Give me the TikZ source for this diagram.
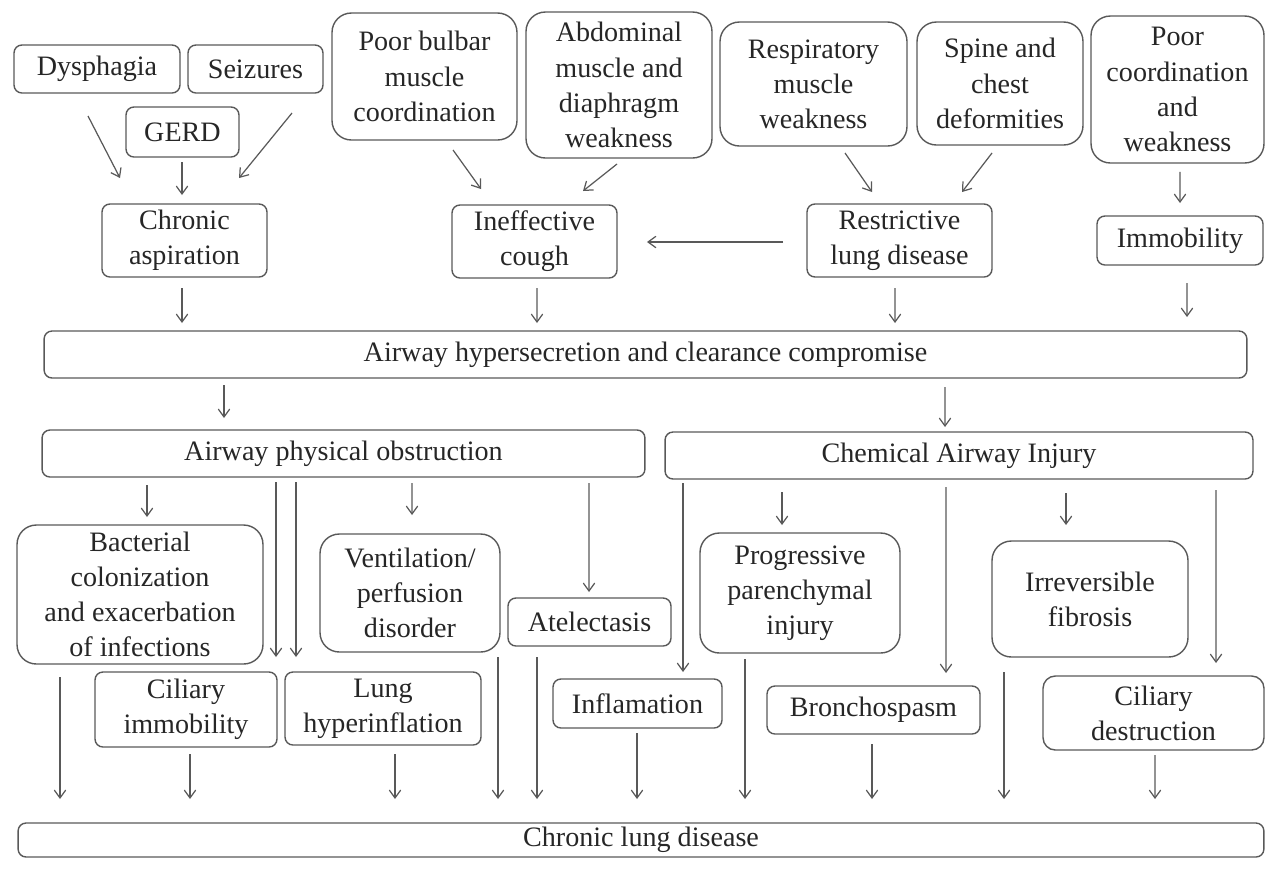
\documentclass[tikz,border=0pt]{standalone}
\usepackage{fontspec}
\setmainfont{Liberation Serif}
\usepackage{tikz}
\usetikzlibrary{arrows.meta,calc}

\begin{document}
\begin{tikzpicture}[x=0.02cm, y=-0.02cm, inner sep=1pt, outer sep=0pt,
    every node/.style={font=\fontsize{16pt}{20pt}\selectfont, text=black!85}]
    \tikzstyle{box}=[rectangle, rounded corners=4.5pt, draw=black!65, line width=0.8pt, align=center]
    \tikzstyle{bigbox}=[box, rounded corners=11pt]
    \tikzstyle{arr}=[-{Straight Barb[length=4.5pt,width=6.5pt]}, draw=black!65, line width=0.7pt]

    \useasboundingbox (0,0) rectangle (1266,877);

    % causes
    \node[box, minimum width=3.32cm, minimum height=0.96cm] (dysph) at (97,69) {Dysphagia};
    \node[box, minimum width=2.7cm, minimum height=0.96cm] (seiz) at (255.5,69) {Seizures};
    \node[box, minimum width=2.26cm, minimum height=1.0cm] (gerd) at (182.5,132) {GERD};
    \node[bigbox, minimum width=3.7cm, minimum height=2.54cm] (bulbar) at (424.5,76.5) {Poor bulbar\\muscle\\coordination};
    \node[bigbox, minimum width=3.72cm, minimum height=2.92cm] (abdom) at (619,85) {Abdominal\\muscle and\\diaphragm\\weakness};
    \node[bigbox, minimum width=3.74cm, minimum height=2.48cm] (respmus) at (813.5,84) {Respiratory\\muscle\\weakness};
    \node[bigbox, minimum width=3.32cm, minimum height=2.46cm] (spine) at (1000,83.5) {Spine and\\chest\\deformities};
    \node[bigbox, minimum width=3.46cm, minimum height=2.94cm] (poorcoord) at (1177.5,89.5) {Poor\\coordination\\and\\weakness};

    \node[box, minimum width=3.3cm, minimum height=1.46cm] (chrasp) at (184.5,240.5) {Chronic\\aspiration};
    \node[box, minimum width=3.3cm, minimum height=1.46cm] (ineff) at (534.5,241.5) {Ineffective\\cough};
    \node[box, minimum width=3.7cm, minimum height=1.46cm] (restr) at (899.5,240.5) {Restrictive\\lung disease};
    \node[box, minimum width=3.32cm, minimum height=0.98cm] (immob) at (1180,240.5) {Immobility};

    \node[box, minimum width=24.06cm, minimum height=0.94cm] (hyper) at (645.5,354.5) {Airway hypersecretion and clearance compromise};
    \node[box, minimum width=12.06cm, minimum height=0.94cm] (obstr) at (343.5,453.5) {Airway physical obstruction};
    \node[box, minimum width=11.76cm, minimum height=0.94cm] (chem) at (959,455.5) {Chemical Airway Injury};

    % consequences
    \node[bigbox, minimum width=4.92cm, minimum height=2.78cm] (bact) at (140,594.5) {Bacterial\\colonization\\and exacerbation\\of infections};
    \node[bigbox, minimum width=3.6cm, minimum height=2.36cm] (ventil) at (410,593) {Ventilation/\\perfusion\\disorder};
    \node[box, minimum width=3.26cm, minimum height=0.96cm] (atel) at (589.5,622) {Atelectasis};
    \node[bigbox, minimum width=4.0cm, minimum height=2.4cm] (progr) at (800,593) {Progressive\\parenchymal\\injury};
    \node[bigbox, minimum width=3.92cm, minimum height=2.32cm] (fibro) at (1090,599) {Irreversible\\fibrosis};
    \node[box, minimum width=3.64cm, minimum height=1.5cm] (cilimm) at (186,709.5) {Ciliary\\immobility};
    \node[box, minimum width=3.92cm, minimum height=1.46cm] (hyperinfl) at (383,708.5) {Lung\\hyperinflation};
    \node[box, minimum width=3.38cm, minimum height=0.98cm] (inflam) at (637.5,703.5) {Inflamation};
    \node[box, minimum width=4.26cm, minimum height=0.96cm] (broncho) at (873.5,710) {Bronchospasm};
    \node[box, minimum width=4.42cm, minimum height=1.48cm, rounded corners=7pt] (cildes) at (1153.5,713) {Ciliary\\destruction};

    \node[box, minimum width=24.92cm, minimum height=0.68cm] (cld) at (641,840) {Chronic lung disease};

    % top row
    \draw[arr] ($(dysph.south)+(-9,23)$) -- ($(chrasp.north)+(-64.5,-26)$);
    \draw[arr] ($(seiz.south)+(36.5,20)$) -- ($(chrasp.north)+(54.5,-26)$);
    \draw[arr] ($(gerd.south)+(-0.5,5)$) -- ($(chrasp.north)+(-2.5,-9)$);
    \draw[arr] ($(bulbar.south)+(28.5,10)$) -- ($(ineff.north)+(-53.5,-16)$);
    \draw[arr] ($(abdom.south)+(-2,6)$) -- ($(ineff.north)+(48.5,-14)$);
    \draw[arr] ($(respmus.south)+(31.5,7)$) -- ($(restr.north)+(-27.5,-12)$);
    \draw[arr] ($(spine.south)+(-8,8)$) -- ($(restr.north)+(62.5,-12)$);
    \draw[arr] ($(poorcoord.south)+(2.5,9)$) -- ($(immob.north)+(0,-13)$);
    \draw[arr] ($(restr.west)+(-24,1.5)$) -- ($(ineff.east)+(30,0.5)$);

    % into hypersecretion
    \draw[arr] ($(chrasp.south)+(-2.5,11)$) -- ($(hyper.north)+(-463.5,-8)$);
    \draw[arr] ($(ineff.south)+(2.5,10)$) -- ($(hyper.north)+(-108.5,-8)$);
    \draw[arr] ($(restr.south)+(-4.5,11)$) -- ($(hyper.north)+(249.5,-8)$);
    \draw[arr] ($(immob.south)+(7,18)$) -- ($(hyper.north)+(541.5,-14)$);
    \draw[arr] ($(hyper.south)+(-421.5,7)$) -- ($(obstr.north)+(-119.5,-12)$);
    \draw[arr] ($(hyper.south)+(299.5,9)$) -- ($(chem.north)+(-14,-5)$);

    % obstruction
    \draw[arr] ($(obstr.south)+(-196.5,8)$) -- ($(bact.north)+(7,-8)$);
    \draw[arr] ($(obstr.south)+(-67.5,5)$) -- ($(cilimm.north)+(90,-15)$);
    \draw[arr] ($(obstr.south)+(-47.5,5)$) -- ($(hyperinfl.north)+(-87,-15)$);
    \draw[arr] ($(obstr.south)+(68.5,6)$) -- ($(ventil.north)+(2,-19)$);
    \draw[arr] ($(obstr.south)+(245.5,6)$) -- ($(atel.north)+(-0.5,-6)$);

    % chemical injury
    \draw[arr] ($(chem.south)+(-276,4)$) -- ($(inflam.north)+(45.5,-7)$);
    \draw[arr] ($(chem.south)+(-177,13)$) -- ($(progr.north)+(-18,-8)$);
    \draw[arr] ($(chem.south)+(-13,8)$) -- ($(broncho.north)+(72.5,-13)$);
    \draw[arr] ($(chem.south)+(107,14)$) -- ($(fibro.north)+(-24,-16)$);
    \draw[arr] ($(chem.south)+(257,11)$) -- ($(cildes.north)+(62.5,-13)$);

    % into chronic lung disease
    \draw[arr] ($(bact.south)+(-80,13)$) -- ($(cld.north)+(-581,-24)$);
    \draw[arr] ($(cilimm.south)+(4,7)$) -- ($(cld.north)+(-451,-24)$);
    \draw[arr] ($(hyperinfl.south)+(12,9)$) -- ($(cld.north)+(-246,-24)$);
    \draw[arr] ($(ventil.south)+(88,5)$) -- ($(cld.north)+(-143,-24)$);
    \draw[arr] ($(atel.south)+(-52.5,11)$) -- ($(cld.north)+(-104,-24)$);
    \draw[arr] ($(inflam.south)+(-0.5,5)$) -- ($(cld.north)+(-4,-24)$);
    \draw[arr] ($(progr.south)+(-55,6)$) -- ($(cld.north)+(104,-24)$);
    \draw[arr] ($(broncho.south)+(-1.5,10)$) -- ($(cld.north)+(231,-24)$);
    \draw[arr] ($(fibro.south)+(-86,15)$) -- ($(cld.north)+(363,-24)$);
    \draw[arr] ($(cildes.south)+(1.5,5)$) -- ($(cld.north)+(514,-24)$);
\end{tikzpicture}
\end{document}
